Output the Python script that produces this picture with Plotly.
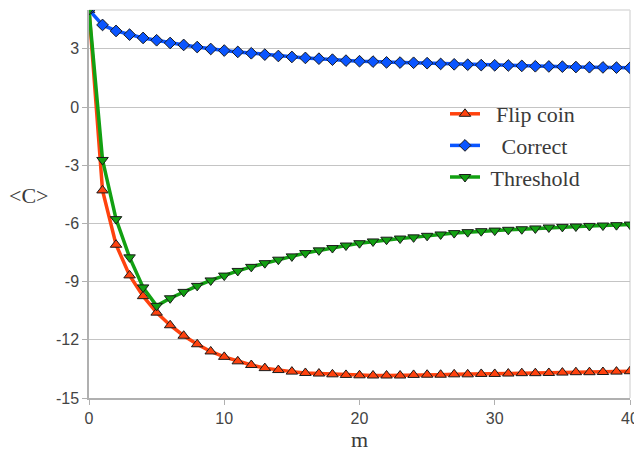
import plotly.graph_objects as go

m = list(range(0, 41))

flip_coin = [5.0, -4.3, -7.1, -8.68, -9.75, -10.6, -11.25, -11.79, -12.23, -12.6, -12.88,
             -13.11, -13.3, -13.46, -13.56, -13.64, -13.71, -13.74, -13.78, -13.81, -13.83,
             -13.84, -13.84, -13.84, -13.81, -13.80, -13.80, -13.78, -13.78, -13.76, -13.76,
             -13.74, -13.72, -13.72, -13.71, -13.69, -13.67, -13.67, -13.66, -13.64, -13.62]

correct = [5.0, 4.23, 3.92, 3.73, 3.56, 3.44, 3.30, 3.20, 3.09, 2.99, 2.91,
           2.84, 2.77, 2.70, 2.63, 2.58, 2.53, 2.49, 2.44, 2.39, 2.36,
           2.34, 2.30, 2.29, 2.28, 2.26, 2.22, 2.20, 2.18, 2.16, 2.15,
           2.14, 2.12, 2.10, 2.09, 2.08, 2.06, 2.05, 2.04, 2.03, 2.02]

threshold = [5.0, -2.73, -5.78, -7.75, -9.3, -10.25, -9.86, -9.53, -9.22, -8.94, -8.69,
             -8.45, -8.24, -8.05, -7.87, -7.70, -7.53, -7.39, -7.27, -7.14, -7.02,
             -6.93, -6.84, -6.78, -6.72, -6.64, -6.57, -6.50, -6.45, -6.40, -6.37,
             -6.33, -6.30, -6.26, -6.21, -6.18, -6.16, -6.13, -6.11, -6.09, -6.06]

series_names = ["\u00a0\u00a0Flip coin", "\u00a0\u00a0\u00a0Correct", "\u00a0Threshold"]
y_ticks = [-15, -12, -9, -6, -3, 0, 3]
y_tick_labels = ["-15", "-12", "-9", "-6", "-3", "0", "3"]
x_ticks = [0, 10, 20, 30, 40]
x_tick_labels = ["0", "10", "20", "30", "40"]

colors = ["#ff420e", "#0a55ff", "#12a012"]
symbols = ["triangle-up", "diamond", "triangle-down"]
sizes = [10, 9, 10]

fig = go.Figure()
for name, ys, c, s, sz in zip(series_names, [flip_coin, correct, threshold], colors, symbols, sizes):
    fig.add_trace(go.Scatter(
        x=m, y=ys, name=name, mode="lines+markers",
        line=dict(color=c, width=3.5),
        marker=dict(symbol=s, size=sz, color=c, line=dict(color="#1a1a1a", width=1)),
    ))

# page has an 8px body offset; work in page pixels and convert
OFF = 8
W, H = 642 - OFF, 454 - OFF
PL, PR, PT, PB = 89, 630, 10, 398  # plot area in page pixels
L, R, T, B = PL - OFF, (642 - PR), PT - OFF, (454 - PB)

def px_to_paper_x(px):
    return (px - PL) / (PR - PL)

def px_to_paper_y(py):
    return (PB - py) / (PB - PT)

fig.update_layout(
    width=W, height=H,
    margin=dict(l=L, r=R, t=T, b=B, autoexpand=False),
    paper_bgcolor="white", plot_bgcolor="white",
    showlegend=True,
    legend=dict(
        x=px_to_paper_x(445), y=px_to_paper_y(93), xanchor="left", yanchor="top",
        bgcolor="rgba(0,0,0,0)", borderwidth=0,
        font=dict(family="Liberation Serif", size=22, color="#3a3a3a"),
        tracegroupgap=0,
    ),
    xaxis=dict(
        range=[0, 40], tickvals=x_ticks, ticktext=x_tick_labels, showgrid=False, zeroline=False,
        showline=True, linecolor="#b0b0b0", linewidth=1.5,
        ticks="outside", ticklen=5, tickcolor="#b0b0b0",
        tickfont=dict(family="Liberation Sans", size=16, color="#444444"),
        title=dict(text="m", font=dict(family="Liberation Serif", size=22, color="#3a3a3a"), standoff=4),
    ),
    yaxis=dict(
        range=[-15, 5], tickvals=y_ticks, ticktext=y_tick_labels, showgrid=True, gridcolor="#c4c4c4", gridwidth=1,
        zeroline=False, showline=True, linecolor="#b0b0b0", linewidth=1.5,
        ticks="outside", ticklen=5, tickcolor="#b0b0b0",
        tickfont=dict(family="Liberation Sans", size=16, color="#444444"),
    ),
    shapes=[
        dict(type="line", xref="paper", yref="paper", x0=0, x1=1, y0=1, y1=1,
             line=dict(color="#dcdcdc", width=1.5), layer="below"),
        dict(type="line", xref="paper", yref="paper", x0=1, x1=1, y0=0, y1=1,
             line=dict(color="#dcdcdc", width=1.5), layer="below"),
        dict(type="rect", xref="paper", yref="paper",
             x0=px_to_paper_x(483), x1=px_to_paper_x(623),
             y0=px_to_paper_y(192), y1=px_to_paper_y(97),
             fillcolor="white", line=dict(width=0), layer="between"),
    ],
    annotations=[
        dict(text="&lt;C&gt;", xref="paper", yref="paper", x=px_to_paper_x(29), y=px_to_paper_y(195),
             xanchor="center", yanchor="middle", showarrow=False,
             font=dict(family="Liberation Serif", size=22, color="#3a3a3a")),
    ],
)

fig.write_html("out.html")
